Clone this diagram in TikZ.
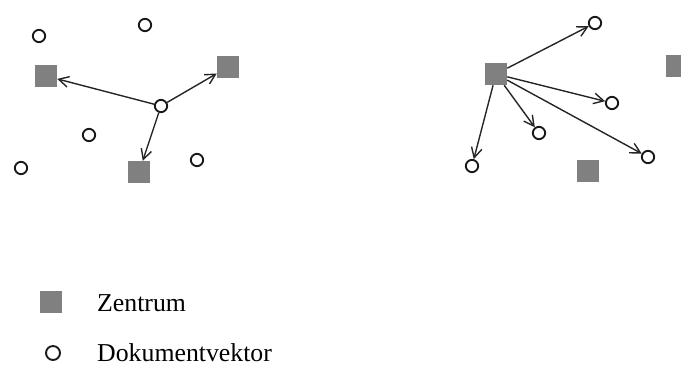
\documentclass[tikz,border=0pt]{standalone}
\usepackage{fontspec}
\setmainfont{Liberation Serif}
\usetikzlibrary{arrows.meta}
\begin{document}
\begin{tikzpicture}[x=0.03cm,y=-0.03cm,
  zentrum/.style={rectangle,fill=black!50,minimum size=0.66cm,inner sep=0pt},
  dokvec/.style={circle,draw=black!90,line width=1.6pt,fill=white,minimum size=0.37cm,inner sep=0pt},
  vec/.style={line width=1.2pt,black!85,-{Straight Barb[length=3mm,width=3.2mm,line width=1.2pt]}},
  legtext/.style={anchor=base west,inner sep=0pt,font=\fontsize{22}{26}\selectfont}]
\useasboundingbox (0,0) rectangle (681,367);

% left cluster: one document vector measured against three centres
\node[dokvec] (d1) at (39,36) {};
\node[dokvec] (d2) at (145,25) {};
\node[dokvec] (d3) at (89,135) {};
\node[dokvec] (d4) at (21,168) {};
\node[dokvec] (d5) at (197,160) {};
\node[zentrum] (z1) at (46,76) {};
\node[zentrum] (z2) at (228,67) {};
\node[zentrum] (z3) at (139,172) {};
\node[dokvec] (dc) at (161,106) {};
\draw[vec] (dc) -- (z1);
\draw[vec] (dc) -- (z2);
\draw[vec] (dc) -- (z3);

% right cluster: one centre measured against five document vectors
\node[zentrum] (zc) at (496,74) {};
\node[zentrum] (z4) at (677,66) {};
\node[zentrum] (z5) at (588,171) {};
\node[dokvec] (e1) at (595,23) {};
\node[dokvec] (e2) at (612,103) {};
\node[dokvec] (e3) at (539,133) {};
\node[dokvec] (e4) at (472,166) {};
\node[dokvec] (e5) at (648,157) {};
\draw[vec] (zc) -- (e1);
\draw[vec] (zc) -- (e2);
\draw[vec] (zc) -- (e3);
\draw[vec] (zc) -- (e4);
\draw[vec] (zc) -- (e5);

% legend
\node[zentrum] (lz) at (51,302) {};
\node[legtext] (lzt) at (97,311) {Zentrum};
\node[dokvec,minimum size=0.42cm] (ld) at (53,353) {};
\node[legtext] (ldt) at (97,361) {Dokumentvektor};
\end{tikzpicture}
\end{document}
